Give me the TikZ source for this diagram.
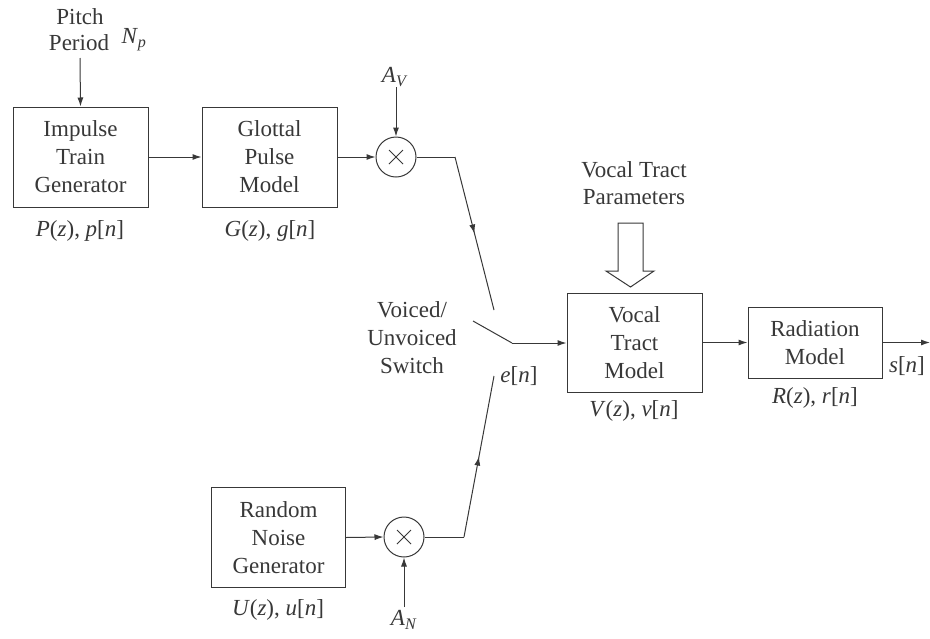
\documentclass[tikz,border=0pt]{standalone}
\usepackage{fontspec}
\setmainfont{Liberation Serif}
\newfontfamily\tms{Liberation Serif}
\usetikzlibrary{arrows.meta,decorations.markings}
\definecolor{ink}{gray}{0.22}
\newcommand\iv[1]{\textit{#1}}
\begin{document}
\begin{tikzpicture}[x=1pt,y=-1pt,
  every node/.style={text=ink,font=\tms\fontsize{23}{28}\selectfont},
  blk/.style={draw=ink,line width=1pt,rectangle,align=center,inner sep=0pt},
  mult/.style={draw=ink,line width=1pt,circle,minimum size=40pt,inner sep=0pt},
  lbl/.style={inner sep=0pt,anchor=center},
  wire/.style={draw=ink,line width=1pt},
  arr/.style={wire,-{Latex[length=9pt,width=6pt]}},
  midarr/.style={wire,decoration={markings,mark=at position 0.5 with {\arrow{Latex[length=9pt,width=6pt]}}},postaction={decorate}}]
\useasboundingbox (0,0) rectangle (930,638);
\fill[white] (0,0) rectangle (930,638);

\node[blk,minimum width=135pt,minimum height=100pt] (itg) at (80.5,157) {Impulse\\Train\\Generator};
\node[blk,minimum width=135pt,minimum height=100pt] (gpm) at (269.5,157) {Glottal\\Pulse\\Model};
\node[mult] (m1) at (396,157) {};
\node[blk,minimum width=135pt,minimum height=99pt] (vtm) at (634.5,342.5) {Vocal\\Tract\\Model};
\node[blk,minimum width=134pt,minimum height=71pt] (rad) at (815,342.5) {Radiation\\Model};
\node[blk,minimum width=134pt,minimum height=100pt] (rng) at (278.5,537.5) {Random\\Noise\\Generator};
\node[mult] (m2) at (404,537) {};

% multiply signs
\draw[ink,line width=0.8pt] (m1.center) ++(-7,-7) -- ++(14,14) ++(0,-14) -- ++(-14,14);
\draw[ink,line width=0.8pt] (m2.center) ++(-7,-7) -- ++(14,14) ++(0,-14) -- ++(-14,14);

% labels
\node[lbl] (pitch) at (80,17) {Pitch};
\node[lbl] (period) at (79,43) {Period};
\node[lbl] (np) at (134,40) {\iv{N}\textsubscript{\iv{p}}};
\coordinate (ptop) at (80,58);
\node[lbl] (pl) at (80,231) {\iv{P}(\iv{z}), \iv{p}[\iv{n}]};
\node[lbl] (gl) at (270,231) {\iv{G}(\iv{z}), \iv{g}[\iv{n}]};
\node[lbl] (av) at (395,77) {\iv{A}\textsubscript{\iv{V}}};
\coordinate (avtop) at (396,87);
\node[lbl] (vtp1) at (634,170) {Vocal Tract};
\node[lbl] (vtp2) at (634,197) {Parameters};
\node[lbl,align=center] (vus) at (412,338) {Voiced/\\Unvoiced\\Switch};
\node[lbl] (en) at (519,376) {\iv{e}[\iv{n}]};
\node[lbl] (vl) at (634,411) {\iv{V}(\iv{z}), \iv{v}[\iv{n}]};
\node[lbl] (rl) at (815,398) {\iv{R}(\iv{z}), \iv{r}[\iv{n}]};
\node[lbl] (sn) at (907,366) {\iv{s}[\iv{n}]};
\coordinate (sout) at (930,342.5);
\node[lbl] (ul) at (278,610) {\iv{U}(\iv{z}), \iv{u}[\iv{n}]};
\node[lbl] (an) at (404,620) {\iv{A}\textsubscript{\iv{N}}};
\coordinate (anbot) at (404,607);

% switch coordinates
\coordinate (c1) at (455,157);
\coordinate (uc) at (494,310);
\coordinate (c2) at (464,537);
\coordinate (lc) at (494,376);
\coordinate (bl) at (473,321);
\coordinate (pv) at (512,343);

% connectors
\draw[arr] (ptop) -- (itg.north);
\draw[arr] (itg.east) -- (gpm.west);
\draw[arr] (gpm.east) -- (m1.west);
\draw[arr] (avtop) -- (m1.north);
\draw[wire] (m1.east) -- (c1);
\draw[midarr] (c1) -- (uc);
\draw[arr] (rng.east) -- (m2.west);
\draw[arr] (anbot) -- (m2.south);
\draw[wire] (m2.east) -- (c2);
\draw[midarr] (c2) -- (lc);
\draw[wire] (bl) -- (pv);
\draw[arr] (pv) -- (pv -| vtm.west);
\draw[arr] (vtm.east |- rad.west) -- (rad.west);
\draw[arr] (rad.east) -- (sout);

% hollow arrow
\draw[ink,line width=1pt,fill=white] (618,223) -- (643,223) -- (643,271) -- (654,271) -- (630.5,287) -- (606,271) -- (618,271) -- cycle;
\end{tikzpicture}
\end{document}
